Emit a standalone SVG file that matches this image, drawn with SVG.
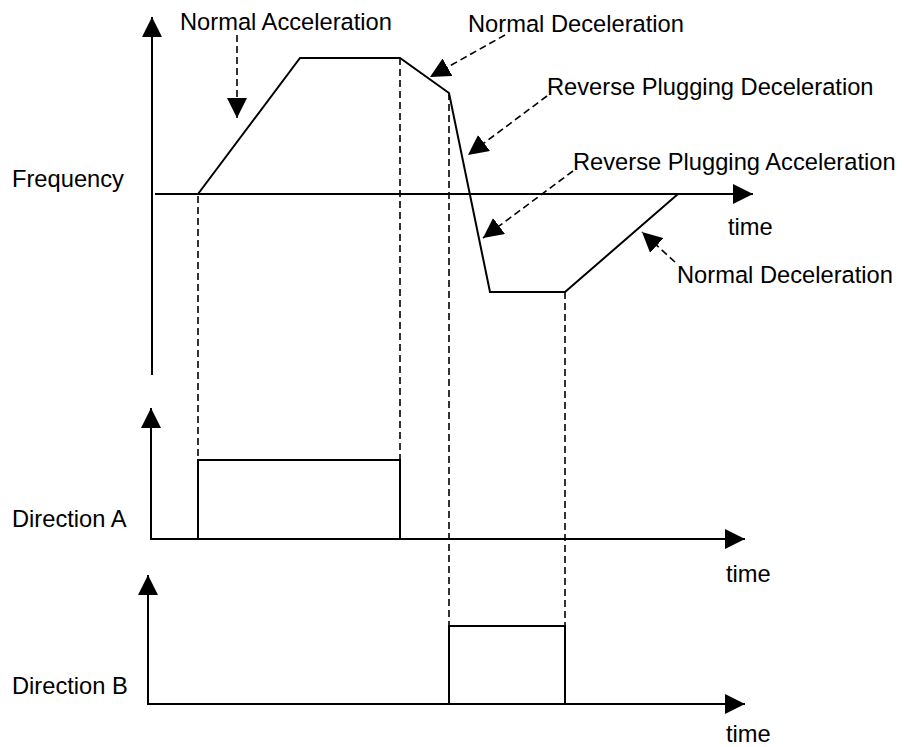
<svg xmlns="http://www.w3.org/2000/svg" width="904" height="747" viewBox="0 0 904 747">
<defs>
<marker id="ah" markerUnits="userSpaceOnUse" markerWidth="20" markerHeight="20" refX="20" refY="10" orient="auto" viewBox="0 0 20 20">
<path d="M0,0 L20,10 L0,20 z" fill="#000"/>
</marker>
<style>
.t{font-family:"Liberation Sans",Arial,sans-serif;font-size:23.7px;fill:#000}
.ax{stroke:#000;stroke-width:2;fill:none}
.s{stroke:#000;stroke-width:2;fill:none}
.d{stroke:#000;stroke-width:1.6;fill:none;stroke-dasharray:7 4}
</style>
</defs>
<rect width="904" height="747" fill="#fff"/>
<g id="axes">
<line class="ax" x1="152" y1="375" x2="152" y2="17" marker-end="url(#ah)"/>
<line class="ax" x1="155" y1="194" x2="753" y2="194" marker-end="url(#ah)"/>
<line class="ax" x1="151" y1="540" x2="151" y2="408" marker-end="url(#ah)"/>
<line class="ax" x1="151" y1="539" x2="745" y2="539" marker-end="url(#ah)"/>
<line class="ax" x1="148" y1="705" x2="148" y2="575" marker-end="url(#ah)"/>
<line class="ax" x1="148" y1="704" x2="745" y2="704" marker-end="url(#ah)"/>
</g>
<g id="frequency-curve">
<polyline class="s" points="198,194 300,58 400,58 449,93 490,292 565,292 678,194"/>
</g>
<g id="direction-a-pulse">
<polyline class="s" points="198,539 198,460 400,460 400,539"/>
</g>
<g id="direction-b-pulse">
<polyline class="s" points="449,704 449,626 565,626 565,704"/>
</g>
<g id="connectors">
<line class="d" x1="198" y1="196" x2="198" y2="460"/>
<line class="d" x1="400" y1="58" x2="400" y2="460"/>
<line class="d" x1="449" y1="93" x2="449" y2="626"/>
<line class="d" x1="565" y1="292" x2="565" y2="626"/>
<line class="d" x1="237" y1="35" x2="237" y2="118" marker-end="url(#ah)"/>
<line class="d" x1="505" y1="35" x2="430" y2="77" marker-end="url(#ah)"/>
<line class="d" x1="547" y1="96" x2="468" y2="155" marker-end="url(#ah)"/>
<line class="d" x1="573" y1="171" x2="483" y2="238" marker-end="url(#ah)"/>
<line class="d" x1="675" y1="262" x2="642" y2="232" marker-end="url(#ah)"/>
</g>
<g id="labels">
<text class="t" x="180" y="30">Normal Acceleration</text>
<text class="t" x="468" y="32">Normal Deceleration</text>
<text class="t" x="547" y="95">Reverse Plugging Deceleration</text>
<text class="t" x="573" y="170">Reverse Plugging Acceleration</text>
<text class="t" x="677" y="283">Normal Deceleration</text>
<text class="t" x="728" y="235">time</text>
<text class="t" x="12" y="187">Frequency</text>
<text class="t" x="12" y="527">Direction A</text>
<text class="t" x="726" y="582">time</text>
<text class="t" x="12" y="694">Direction B</text>
<text class="t" x="726" y="742">time</text>
</g>
</svg>
